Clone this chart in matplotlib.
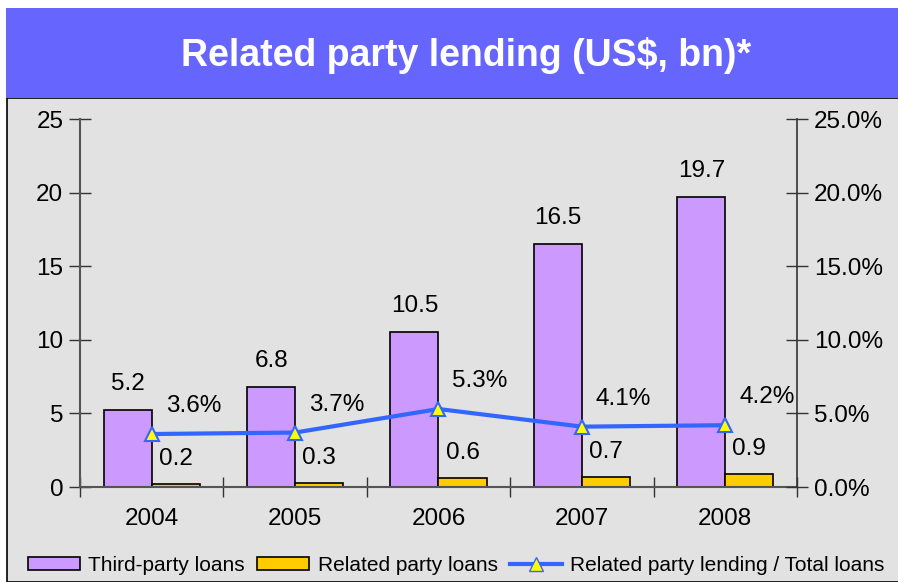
import numpy as np
import matplotlib.pyplot as plt
from matplotlib.patches import Rectangle
from matplotlib.lines import Line2D

years = ['2004', '2005', '2006', '2007', '2008']
third_party = [5.2, 6.8, 10.5, 16.5, 19.7]
related = [0.2, 0.3, 0.6, 0.7, 0.9]
share = [0.036, 0.037, 0.053, 0.041, 0.042]
share_labels = ['3.6%', '3.7%', '5.3%', '4.1%', '4.2%']

plt.rcParams['font.family'] = ['Liberation Sans', 'DejaVu Sans']

fig = plt.figure(figsize=(8.98, 5.82), dpi=100)
fig.patch.set_facecolor('white')

# grey panel behind the chart and the blue title banner
fig.patches.append(Rectangle((0.008, 0.0), 1.0, 0.832, transform=fig.transFigure,
                             facecolor='#e2e2e2', edgecolor='black', linewidth=1.2, zorder=-10))
fig.patches.append(Rectangle((0.0067, 0.832), 1.0, 0.155, transform=fig.transFigure,
                             facecolor='#6666ff', edgecolor='none', zorder=-10))
fig.text(0.519, 0.905, 'Related party lending (US$, bn)*', color='white', fontsize=27,
         fontweight='bold', ha='center', va='center')

fs = 17.5
ax = fig.add_axes([0.0891, 0.1632, 0.7984, 0.6323])
ax.set_facecolor('none')
x = np.arange(len(years))
w = 0.335

ax.bar(x - w / 2, third_party, w, color='#cc99ff', edgecolor='black', linewidth=1.2)
ax.bar(x + w / 2, related, w, color='#ffcc00', edgecolor='black', linewidth=1.2)

for xi, v in zip(x, third_party):
    ax.annotate(f'{v}', (xi - w / 2, v), xytext=(0, 19), textcoords='offset points',
                ha='center', va='center', fontsize=fs)
for xi, v in zip(x, related):
    ax.annotate(f'{v}', (xi + w / 2, v), xytext=(0, 18), textcoords='offset points',
                ha='center', va='center', fontsize=fs)

ax.set_xlim(-0.5, 4.5)
ax.set_ylim(0, 25)
ax.set_yticks([0, 5, 10, 15, 20, 25])
ax.set_xticks(x)
ax.set_xticklabels(years)
ax.set_xticks(np.arange(-0.5, 5, 1), minor=True)
ax.tick_params(axis='x', which='major', length=0, pad=15, labelsize=fs)
ax.tick_params(axis='x', which='minor', direction='inout', length=14, width=1, color='#333333')
ax.tick_params(axis='y', direction='inout', length=16, width=1, color='#333333', labelsize=fs, pad=4)
for s in ['top', 'right']:
    ax.spines[s].set_visible(False)
for s in ['left', 'bottom']:
    ax.spines[s].set_color('#555555')
    ax.spines[s].set_linewidth(1.5)

ax2 = ax.twinx()
ax2.set_ylim(0, 0.25)
ax2.set_yticks([0, 0.05, 0.10, 0.15, 0.20, 0.25])
ax2.set_yticklabels([f'{t * 100:.1f}%' for t in ax2.get_yticks()])
ax2.tick_params(axis='y', direction='inout', length=16, width=1, color='#333333', labelsize=fs, pad=4)
for s in ['top', 'left', 'bottom']:
    ax2.spines[s].set_visible(False)
ax2.spines['right'].set_color('#333333')
ax2.spines['right'].set_linewidth(1.2)

ax2.plot(x, share, color='#3366ff', linewidth=3, marker='^', markersize=10,
         markerfacecolor='#ffff00', markeredgecolor='#3366ff', markeredgewidth=1.5)
for xi, v, lab in zip(x, share, share_labels):
    ax2.annotate(lab, (xi + 0.29, v), xytext=(0, 20), textcoords='offset points',
                 ha='center', va='center', fontsize=fs)

handles = [Rectangle((0, 0), 1, 1, facecolor='#cc99ff', edgecolor='black', linewidth=1.2),
           Rectangle((0, 0), 1, 1, facecolor='#ffcc00', edgecolor='black', linewidth=1.2),
           Line2D([], [], color='#3366ff', linewidth=3, marker='^', markersize=10,
                  markerfacecolor='#ffff00', markeredgecolor='#3366ff')]
fig.legend(handles, ['Third-party loans', 'Related party loans', 'Related party lending / Total loans'],
           loc='center', bbox_to_anchor=(0.508, 0.029), ncol=3, frameon=False, fontsize=15,
           handlelength=2.5, handleheight=0.6, columnspacing=0.6, handletextpad=0.4)

fig.savefig('out.png', dpi=100)
